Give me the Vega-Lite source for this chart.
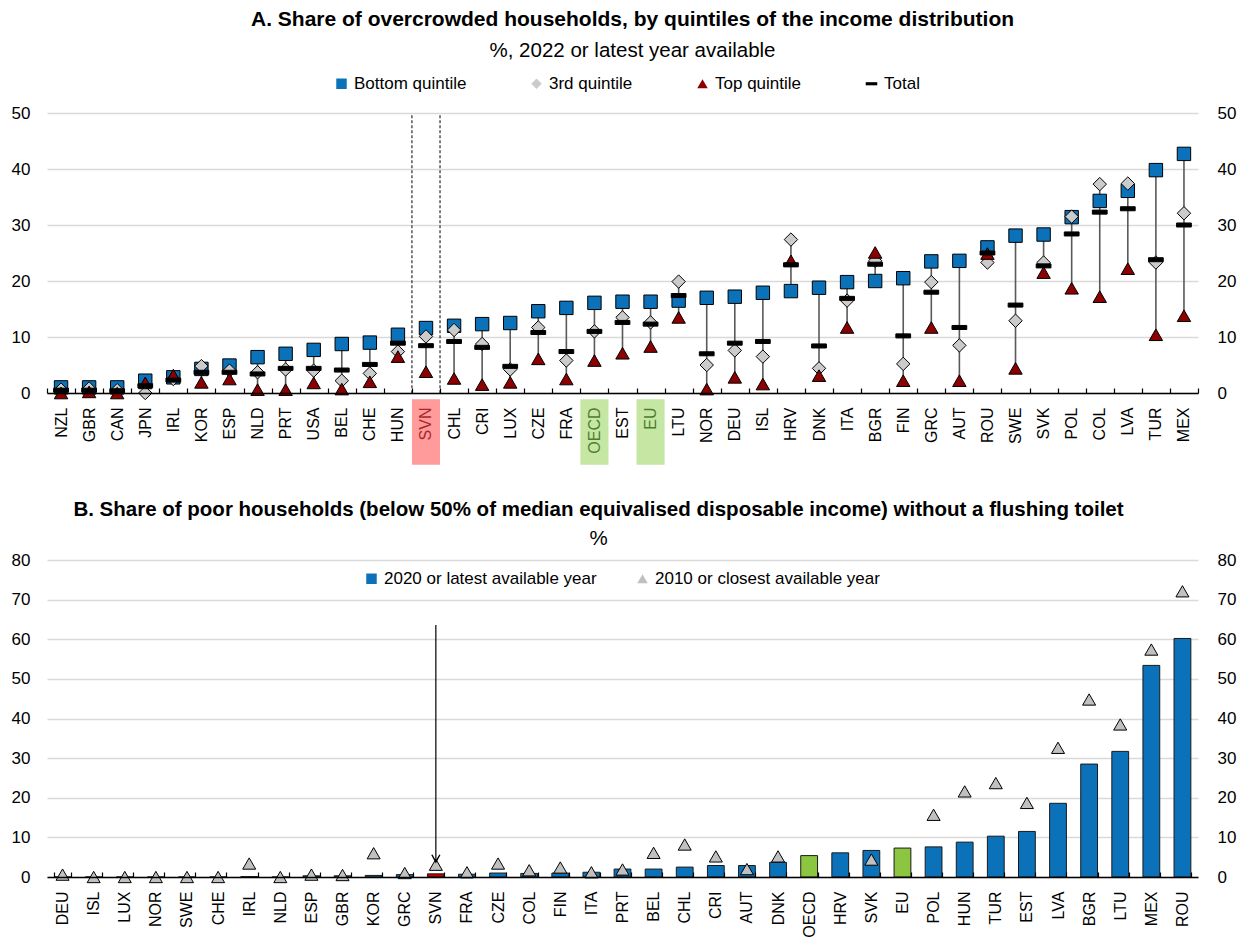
{
  "$schema": "https://vega.github.io/schema/vega-lite/v6.json",
  "background": "white",
  "padding": {"left": 11, "right": 5, "top": 8, "bottom": 0},
  "spacing": 35,
  "resolve": {"scale": {"fill": "independent", "shape": "independent"}, "legend": {"fill": "independent", "shape": "independent"}},
  "config": {
    "font": "Liberation Sans, Arial, sans-serif",
    "view": {"stroke": null},
    "axis": {"labelFont": "Liberation Sans, Arial, sans-serif", "labelFontSize": 16, "labelColor": "black", "title": null},
    "legend": {"labelFont": "Liberation Sans, Arial, sans-serif", "labelFontSize": 17, "labelColor": "black", "labelLimit": 400},
    "title": {"font": "Liberation Sans, Arial, sans-serif", "subtitleFont": "Liberation Sans, Arial, sans-serif", "color": "black", "subtitleColor": "black", "anchor": "middle", "fontWeight": "bold", "fontSize": 21, "subtitleFontSize": 20.5}
  },
  "datasets": {
    "overcrowd": [
      {"country": "NZL", "Bottom quintile": 1.0, "3rd quintile": 0.6, "Top quintile": 0.0, "Total": 0.5},
      {"country": "GBR", "Bottom quintile": 1.0, "3rd quintile": 0.8, "Top quintile": 0.2, "Total": 0.5},
      {"country": "CAN", "Bottom quintile": 1.0, "3rd quintile": 0.5, "Top quintile": 0.0, "Total": 0.4},
      {"country": "JPN", "Bottom quintile": 2.2, "3rd quintile": 0.0, "Top quintile": 1.8, "Total": 1.3},
      {"country": "IRL", "Bottom quintile": 2.8, "3rd quintile": 2.5, "Top quintile": 3.2, "Total": 2.3},
      {"country": "KOR", "Bottom quintile": 4.3, "3rd quintile": 4.8, "Top quintile": 1.9, "Total": 3.7},
      {"country": "ESP", "Bottom quintile": 4.9, "3rd quintile": 4.0, "Top quintile": 2.5, "Total": 3.7},
      {"country": "NLD", "Bottom quintile": 6.4, "3rd quintile": 3.7, "Top quintile": 0.6, "Total": 3.4},
      {"country": "PRT", "Bottom quintile": 7.0, "3rd quintile": 4.2, "Top quintile": 0.6, "Total": 4.4},
      {"country": "USA", "Bottom quintile": 7.7, "3rd quintile": 4.0, "Top quintile": 1.8, "Total": 4.4},
      {"country": "BEL", "Bottom quintile": 8.75, "3rd quintile": 2.2, "Top quintile": 0.7, "Total": 4.1},
      {"country": "CHE", "Bottom quintile": 9.0, "3rd quintile": 3.5, "Top quintile": 2.0, "Total": 5.1},
      {"country": "HUN", "Bottom quintile": 10.4, "3rd quintile": 7.4, "Top quintile": 6.5, "Total": 8.9},
      {"country": "SVN", "Bottom quintile": 11.6, "3rd quintile": 10.1, "Top quintile": 3.8, "Total": 8.45},
      {"country": "CHL", "Bottom quintile": 12.0, "3rd quintile": 11.25, "Top quintile": 2.6, "Total": 9.2},
      {"country": "CRI", "Bottom quintile": 12.3, "3rd quintile": 8.75, "Top quintile": 1.5, "Total": 8.15},
      {"country": "LUX", "Bottom quintile": 12.5, "3rd quintile": 4.2, "Top quintile": 1.9, "Total": 4.76},
      {"country": "CZE", "Bottom quintile": 14.6, "3rd quintile": 11.7, "Top quintile": 6.1, "Total": 10.8},
      {"country": "FRA", "Bottom quintile": 15.2, "3rd quintile": 5.8, "Top quintile": 2.5, "Total": 7.4},
      {"country": "OECD", "Bottom quintile": 16.1, "3rd quintile": 11.0, "Top quintile": 5.8, "Total": 11.0},
      {"country": "EST", "Bottom quintile": 16.3, "3rd quintile": 13.5, "Top quintile": 7.1, "Total": 12.6},
      {"country": "EU", "Bottom quintile": 16.3, "3rd quintile": 12.6, "Top quintile": 8.3, "Total": 12.3},
      {"country": "LTU", "Bottom quintile": 16.5, "3rd quintile": 19.9, "Top quintile": 13.5, "Total": 17.4},
      {"country": "NOR", "Bottom quintile": 17.0, "3rd quintile": 5.0, "Top quintile": 0.7, "Total": 7.0},
      {"country": "DEU", "Bottom quintile": 17.2, "3rd quintile": 7.6, "Top quintile": 2.8, "Total": 8.9},
      {"country": "ISL", "Bottom quintile": 17.9, "3rd quintile": 6.5, "Top quintile": 1.6, "Total": 9.2},
      {"country": "HRV", "Bottom quintile": 18.2, "3rd quintile": 27.4, "Top quintile": 23.6, "Total": 22.9},
      {"country": "DNK", "Bottom quintile": 18.8, "3rd quintile": 4.4, "Top quintile": 3.1, "Total": 8.4},
      {"country": "ITA", "Bottom quintile": 19.8, "3rd quintile": 16.5, "Top quintile": 11.7, "Total": 16.9},
      {"country": "BGR", "Bottom quintile": 20.0, "3rd quintile": 23.6, "Top quintile": 25.1, "Total": 23.0},
      {"country": "FIN", "Bottom quintile": 20.5, "3rd quintile": 5.2, "Top quintile": 2.2, "Total": 10.2},
      {"country": "GRC", "Bottom quintile": 23.5, "3rd quintile": 19.8, "Top quintile": 11.7, "Total": 18.0},
      {"country": "AUT", "Bottom quintile": 23.6, "3rd quintile": 8.5, "Top quintile": 2.2, "Total": 11.7},
      {"country": "ROU", "Bottom quintile": 26.0, "3rd quintile": 23.3, "Top quintile": 24.9, "Total": 25.0},
      {"country": "SWE", "Bottom quintile": 28.1, "3rd quintile": 12.9, "Top quintile": 4.4, "Total": 15.7},
      {"country": "SVK", "Bottom quintile": 28.3, "3rd quintile": 23.3, "Top quintile": 21.5, "Total": 22.7},
      {"country": "POL", "Bottom quintile": 31.4, "3rd quintile": 31.5, "Top quintile": 18.7, "Total": 28.4},
      {"country": "COL", "Bottom quintile": 34.3, "3rd quintile": 37.3, "Top quintile": 17.2, "Total": 32.3},
      {"country": "LVA", "Bottom quintile": 36.1, "3rd quintile": 37.4, "Top quintile": 22.2, "Total": 32.9},
      {"country": "TUR", "Bottom quintile": 39.8, "3rd quintile": 23.3, "Top quintile": 10.4, "Total": 23.8},
      {"country": "MEX", "Bottom quintile": 42.7, "3rd quintile": 32.1, "Top quintile": 13.8, "Total": 30.0}
    ],
    "highlight": [
      {"country": "SVN"},
      {"country": "OECD"},
      {"country": "EU"}
    ],
    "svnBounds": [{"country": "SVN"}, {"country": "CHL"}],
    "toilet": [
      {"country": "DEU", "2020 or latest available year": 0.0, "2010 or closest available year": 0.6},
      {"country": "ISL", "2020 or latest available year": 0.0, "2010 or closest available year": 0.0},
      {"country": "LUX", "2020 or latest available year": 0.0, "2010 or closest available year": 0.0},
      {"country": "NOR", "2020 or latest available year": 0.0, "2010 or closest available year": 0.0},
      {"country": "SWE", "2020 or latest available year": 0.0, "2010 or closest available year": 0.0},
      {"country": "CHE", "2020 or latest available year": 0.0, "2010 or closest available year": 0.0},
      {"country": "IRL", "2020 or latest available year": 0.1, "2010 or closest available year": 3.4},
      {"country": "NLD", "2020 or latest available year": 0.0, "2010 or closest available year": 0.0},
      {"country": "ESP", "2020 or latest available year": 0.3, "2010 or closest available year": 0.6},
      {"country": "GBR", "2020 or latest available year": 0.3, "2010 or closest available year": 0.5},
      {"country": "KOR", "2020 or latest available year": 0.4, "2010 or closest available year": 6.0},
      {"country": "GRC", "2020 or latest available year": 0.6, "2010 or closest available year": 1.0},
      {"country": "SVN", "2020 or latest available year": 0.8, "2010 or closest available year": 3.1},
      {"country": "FRA", "2020 or latest available year": 0.7, "2010 or closest available year": 1.2},
      {"country": "CZE", "2020 or latest available year": 1.0, "2010 or closest available year": 3.4},
      {"country": "COL", "2020 or latest available year": 0.9, "2010 or closest available year": 1.7},
      {"country": "FIN", "2020 or latest available year": 1.0, "2010 or closest available year": 2.4},
      {"country": "ITA", "2020 or latest available year": 1.2, "2010 or closest available year": 1.2},
      {"country": "PRT", "2020 or latest available year": 2.0, "2010 or closest available year": 1.9},
      {"country": "BEL", "2020 or latest available year": 2.0, "2010 or closest available year": 6.1},
      {"country": "CHL", "2020 or latest available year": 2.5, "2010 or closest available year": 8.2},
      {"country": "CRI", "2020 or latest available year": 2.9, "2010 or closest available year": 5.2},
      {"country": "AUT", "2020 or latest available year": 2.9, "2010 or closest available year": 2.0},
      {"country": "DNK", "2020 or latest available year": 3.7, "2010 or closest available year": 5.2},
      {"country": "OECD", "2020 or latest available year": 5.4},
      {"country": "HRV", "2020 or latest available year": 6.1},
      {"country": "SVK", "2020 or latest available year": 6.7, "2010 or closest available year": 4.4},
      {"country": "EU", "2020 or latest available year": 7.3},
      {"country": "POL", "2020 or latest available year": 7.6, "2010 or closest available year": 15.7},
      {"country": "HUN", "2020 or latest available year": 8.8, "2010 or closest available year": 21.6},
      {"country": "TUR", "2020 or latest available year": 10.3, "2010 or closest available year": 23.7},
      {"country": "EST", "2020 or latest available year": 11.5, "2010 or closest available year": 18.7},
      {"country": "LVA", "2020 or latest available year": 18.6, "2010 or closest available year": 32.6},
      {"country": "BGR", "2020 or latest available year": 28.5, "2010 or closest available year": 44.8},
      {"country": "LTU", "2020 or latest available year": 31.7, "2010 or closest available year": 38.5},
      {"country": "MEX", "2020 or latest available year": 53.4, "2010 or closest available year": 57.4},
      {"country": "ROU", "2020 or latest available year": 60.2, "2010 or closest available year": 72.1}
    ],
    "arrow": [{"country": "SVN"}]
  },
  "vconcat": [
    {
      "title": {"text": "A. Share of overcrowded households, by quintiles of the income distribution", "subtitle": "%, 2022 or latest year available", "offset": 14, "subtitlePadding": 11, "dx": 10},
      "width": 1151,
      "height": 280,
      "encoding": {
        "x": {
          "field": "country", "type": "nominal",
          "scale": {"domain": ["NZL","GBR","CAN","JPN","IRL","KOR","ESP","NLD","PRT","USA","BEL","CHE","HUN","SVN","CHL","CRI","LUX","CZE","FRA","OECD","EST","EU","LTU","NOR","DEU","ISL","HRV","DNK","ITA","BGR","FIN","GRC","AUT","ROU","SWE","SVK","POL","COL","LVA","TUR","MEX"], "paddingInner": 0, "paddingOuter": 0},
          "axis": {
            "labelAngle": -90, "labelAlign": "right", "labelBaseline": "middle", "labelPadding": 19,
            "tickBand": "extent", "tickSize": -5, "tickColor": "black", "tickWidth": 1.2,
            "domainColor": "black", "domainWidth": 1.5, "zindex": 1,
            "labelColor": {"condition": [{"test": "datum.value === 'SVN'", "value": "#A8282A"}, {"test": "datum.value === 'OECD' || datum.value === 'EU'", "value": "#4E7D2E"}], "value": "black"}
          }
        }
      },
      "resolve": {"axis": {"y": "independent"}},
      "layer": [
        {
          "data": {"name": "highlight"},
          "mark": {"type": "rect", "opacity": 1},
          "encoding": {
            "y": {"datum": -1.1, "type": "quantitative", "scale": {"domain": [0, 50], "nice": false}, "axis": null},
            "y2": {"datum": -12.8},
            "fill": {"condition": {"test": "datum.country === 'SVN'", "value": "#FF9B9B"}, "value": "#C6E6A4"}
          }
        },
        {
          "data": {"name": "svnBounds"},
          "mark": {"type": "rule", "color": "black", "strokeWidth": 1, "strokeDash": [3, 2]},
          "encoding": {
            "x": {
              "field": "country", "type": "nominal", "bandPosition": 0,
              "scale": {"domain": ["NZL","GBR","CAN","JPN","IRL","KOR","ESP","NLD","PRT","USA","BEL","CHE","HUN","SVN","CHL","CRI","LUX","CZE","FRA","OECD","EST","EU","LTU","NOR","DEU","ISL","HRV","DNK","ITA","BGR","FIN","GRC","AUT","ROU","SWE","SVK","POL","COL","LVA","TUR","MEX"], "paddingInner": 0, "paddingOuter": 0},
              "axis": {
                "labelAngle": -90, "labelAlign": "right", "labelBaseline": "middle", "labelPadding": 19,
                "tickBand": "extent", "tickSize": -5, "tickColor": "black", "tickWidth": 1.2,
                "domainColor": "black", "domainWidth": 1.5, "zindex": 1,
                "labelColor": {"condition": [{"test": "datum.value === 'SVN'", "value": "#A8282A"}, {"test": "datum.value === 'OECD' || datum.value === 'EU'", "value": "#4E7D2E"}], "value": "black"}
              }
            },
            "y": {"datum": 49.6, "type": "quantitative", "scale": {"domain": [0, 50], "nice": false}, "axis": null},
            "y2": {"datum": 0}
          }
        },
        {
          "data": {"name": "overcrowd"},
          "transform": [{"fold": ["Bottom quintile", "3rd quintile", "Top quintile", "Total"]}],
          "mark": {"type": "rule", "color": "#595959", "strokeWidth": 1.6},
          "encoding": {
            "y": {"aggregate": "min", "field": "value", "type": "quantitative", "scale": {"domain": [0, 50], "nice": false},
                  "axis": {"orient": "left", "values": [0, 10, 20, 30, 40, 50], "grid": true, "gridColor": "#D9D9D9", "gridWidth": 1.5, "domain": false, "ticks": false, "labelPadding": 17, "labelFontSize": 17, "title": null}},
            "y2": {"aggregate": "max", "field": "value"}
          }
        },
        {
          "data": {"name": "overcrowd"},
          "transform": [{"fold": ["Bottom quintile", "3rd quintile", "Top quintile", "Total"]}],
          "mark": {"type": "point", "filled": true, "size": 180, "stroke": "black", "strokeWidth": 1, "opacity": 1},
          "encoding": {
            "y": {"field": "value", "type": "quantitative", "scale": {"domain": [0, 50], "nice": false},
                  "axis": {"orient": "right", "values": [0, 10, 20, 30, 40, 50], "grid": false, "domain": false, "ticks": false, "labelPadding": 19, "labelFontSize": 17, "title": null}},
            "fill": {"field": "key", "type": "nominal",
                     "scale": {"domain": ["Bottom quintile", "3rd quintile", "Top quintile", "Total"], "range": ["#0B72BA", "#CBCBCB", "#8B0000", "#000000"]},
                     "legend": {"orient": "none", "legendX": 286, "legendY": -38, "direction": "horizontal", "title": null, "symbolSize": 110, "symbolStrokeColor": "black", "symbolStrokeWidth": 1, "columnPadding": 61, "labelOffset": 4, "padding": 0,
                                "encode": {"symbols": {"update": {"stroke": {"value": "black"}, "strokeWidth": {"value": 1}}}}}},
            "shape": {"field": "key", "type": "nominal",
                      "scale": {"domain": ["Bottom quintile", "3rd quintile", "Top quintile", "Total"], "range": ["square", "diamond", "triangle-up", "M-1.1,-0.3L1.1,-0.3L1.1,0.3L-1.1,0.3Z"]},
                      "legend": {"orient": "none", "legendX": 286, "legendY": -38, "direction": "horizontal", "title": null, "symbolSize": 110, "symbolStrokeColor": "black", "symbolStrokeWidth": 1, "columnPadding": 61, "labelOffset": 4, "padding": 0,
                                 "encode": {"symbols": {"update": {"stroke": {"value": "black"}, "strokeWidth": {"value": 1}}}}}}
          }
        }
      ]
    },
    {
      "title": {"text": "B. Share of poor households (below 50% of median equivalised disposable income) without a flushing toilet", "subtitle": "%", "offset": 2, "subtitlePadding": 8, "fontSize": 20.5, "dx": -24},
      "width": 1151,
      "height": 317,
      "encoding": {
        "x": {
          "field": "country", "type": "nominal",
          "scale": {"domain": ["DEU","ISL","LUX","NOR","SWE","CHE","IRL","NLD","ESP","GBR","KOR","GRC","SVN","FRA","CZE","COL","FIN","ITA","PRT","BEL","CHL","CRI","AUT","DNK","OECD","HRV","SVK","EU","POL","HUN","TUR","EST","LVA","BGR","LTU","MEX","ROU"], "paddingInner": 0.46, "paddingOuter": 0.23},
          "axis": {
            "labelAngle": -90, "labelAlign": "right", "labelBaseline": "middle", "labelPadding": 19,
            "tickBand": "extent", "tickSize": -5, "tickColor": "black", "tickWidth": 1.2,
            "domainColor": "black", "domainWidth": 1.5, "zindex": 1
          }
        }
      },
      "resolve": {"axis": {"y": "independent"}},
      "layer": [
        {
          "data": {"name": "toilet"},
          "mark": {"type": "bar", "stroke": "#1a1a1a", "strokeWidth": 1},
          "encoding": {
            "y": {"field": "2020 or latest available year", "type": "quantitative", "scale": {"domain": [0, 80], "nice": false},
                  "axis": {"orient": "left", "values": [0, 10, 20, 30, 40, 50, 60, 70, 80], "grid": true, "gridColor": "#D9D9D9", "gridWidth": 1.5, "domain": false, "ticks": false, "labelPadding": 17, "labelFontSize": 17, "title": null}},
            "fill": {"condition": [{"test": "datum.country === 'SVN'", "value": "#C00000"}, {"test": "datum.country === 'OECD' || datum.country === 'EU'", "value": "#8CC641"}], "value": "#0B72BA"}
          }
        },
        {
          "data": {"name": "toilet"},
          "transform": [{"fold": ["2010 or closest available year"]}, {"filter": "isValid(datum.value)"}],
          "mark": {"type": "point", "filled": true, "size": 170, "stroke": "black", "strokeWidth": 1, "opacity": 1},
          "encoding": {
            "y": {"field": "value", "type": "quantitative", "scale": {"domain": [0, 80], "nice": false},
                  "axis": {"orient": "right", "values": [0, 10, 20, 30, 40, 50, 60, 70, 80], "grid": false, "domain": false, "ticks": false, "labelPadding": 19, "labelFontSize": 17, "title": null}},
            "fill": {"field": "key", "type": "nominal",
                     "scale": {"domain": ["2020 or latest available year", "2010 or closest available year"], "range": ["#0B72BA", "#C0C0C0"]},
                     "legend": {"orient": "none", "legendX": 316, "legendY": 10, "direction": "horizontal", "title": null, "symbolSize": 110, "symbolStrokeColor": "black", "symbolStrokeWidth": 1, "columnPadding": 37, "labelOffset": 4, "padding": 0,
                                "encode": {"symbols": {"update": {"stroke": {"value": "black"}, "strokeWidth": {"value": 1}}}}}},
            "shape": {"field": "key", "type": "nominal",
                      "scale": {"domain": ["2020 or latest available year", "2010 or closest available year"], "range": ["square", "triangle-up"]},
                      "legend": {"orient": "none", "legendX": 316, "legendY": 10, "direction": "horizontal", "title": null, "symbolSize": 110, "symbolStrokeColor": "black", "symbolStrokeWidth": 1, "columnPadding": 37, "labelOffset": 4, "padding": 0,
                                 "encode": {"symbols": {"update": {"stroke": {"value": "black"}, "strokeWidth": {"value": 1}}}}}}
          }
        },
        {
          "data": {"name": "arrow"},
          "mark": {"type": "rule", "color": "black", "strokeWidth": 1.2},
          "encoding": {
            "y": {"datum": 63.6, "type": "quantitative", "scale": {"domain": [0, 80], "nice": false}, "axis": null},
            "y2": {"datum": 4.0}
          }
        },
        {
          "data": {"name": "arrow"},
          "mark": {"type": "point", "filled": false, "size": 64, "stroke": "black", "strokeWidth": 1.4, "opacity": 1, "shape": "M-1,-1.8L0,0L1,-1.8"},
          "encoding": {
            "y": {"datum": 3.8, "type": "quantitative", "scale": {"domain": [0, 80], "nice": false}, "axis": null}
          }
        }
      ]
    }
  ]
}
